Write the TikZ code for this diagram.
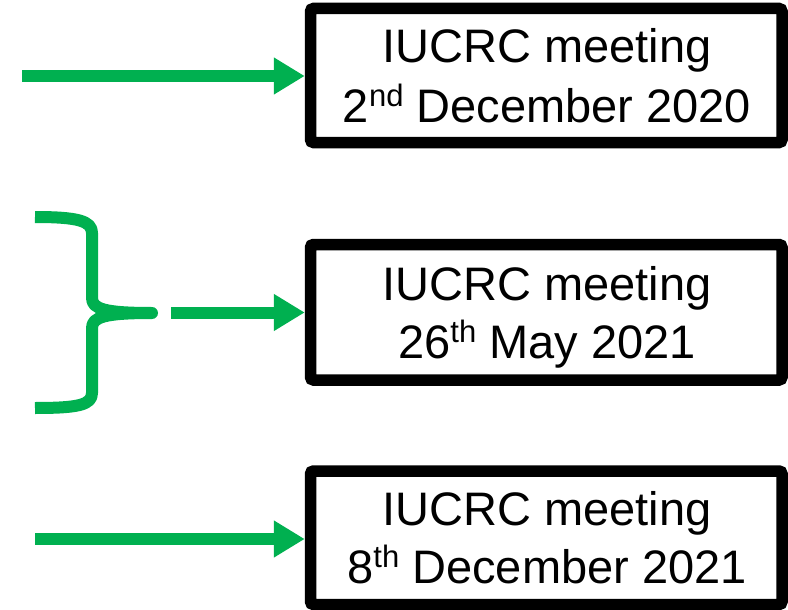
\documentclass[tikz,border=0pt]{standalone}
\usepackage{fontspec}
\setmainfont{Liberation Sans}
\usetikzlibrary{arrows.meta}
\definecolor{grn}{RGB}{0,176,80}
\newcommand{\supx}[1]{\raisebox{16pt}{\fontsize{31}{31}\selectfont #1}}
\begin{document}
\begin{tikzpicture}[x=1pt,y=-1pt,
  box/.style={draw=black, line width=11.5pt, rounded corners=3pt, minimum width=471.5pt, inner sep=0pt, fill=white},
  txt/.style={font=\fontsize{47}{56}\selectfont, anchor=base, inner sep=0pt},
  garrow/.style={draw=grn, line width=12pt, -{Triangle[length=31pt,width=35pt]}},
  brace/.style={draw=grn, line width=12pt, line join=round}]
\useasboundingbox (0,0) rectangle (788,610);
% boxes
\node[box, minimum height=134pt] (b1) at (546.25,75.5) {};
\node[box, minimum height=135.5pt] (b2) at (546.25,312.25) {};
\node[box, minimum height=133.5pt] (b3) at (546.25,537.75) {};
% texts
\node[txt] (t1a) at (547,63) {IUCRC meeting};
\node[txt] (t1b) at (547,122) {2\supx{nd} December 2020};
\node[txt] (t2a) at (547,300) {IUCRC meeting};
\node[txt] (t2b) at (547,358) {26\supx{th} May 2021};
\node[txt] (t3a) at (547,525) {IUCRC meeting};
\node[txt] (t3b) at (547,583) {8\supx{th} December 2021};
% arrows
\coordinate (a1) at (22,76);
\coordinate (a2) at (171,312.5);
\coordinate (a3) at (35,539);
\draw[garrow] (a1) -- (a1 -| b1.west);
\draw[garrow] (a2) -- (a2 -| b2.west);
\draw[garrow] (a3) -- (a3 -| b3.west);
% brace
\coordinate (bt) at (35,217);
\coordinate (tip) at (152,313);
\coordinate (bb) at (35,408);
\draw[brace] (bt) .. controls (78,217) and (92,221) .. (92,233)
  -- (92,298) .. controls (92,309) and (105,313) .. (tip)
  .. controls (105,313) and (92,317) .. (92,328)
  -- (92,393) .. controls (92,405) and (78,408) .. (bb);
\end{tikzpicture}
\end{document}
